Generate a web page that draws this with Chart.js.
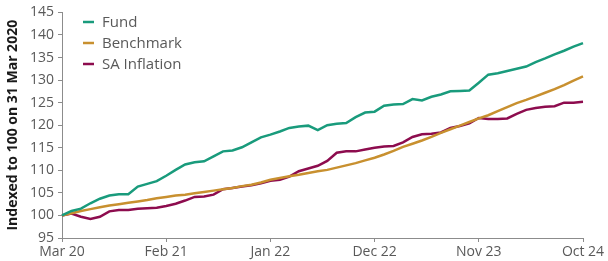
<!DOCTYPE html>
<html>
<head>
<meta charset="utf-8">
<script src="https://cdn.jsdelivr.net/npm/chart.js@4.4.1/dist/chart.umd.min.js"></script>
<style>
  html, body { margin: 0; padding: 0; background: #fff; }
  #wrap { position: relative; width: 608px; height: 261px; }
</style>
</head>
<body>
<div id="wrap"><canvas id="chart"></canvas></div>
<script>
const months = [
  'Mar 20', 'Apr 20', 'May 20', 'Jun 20', 'Jul 20', 'Aug 20', 'Sep 20', 'Oct 20', 'Nov 20', 'Dec 20',
  'Jan 21', 'Feb 21', 'Mar 21', 'Apr 21', 'May 21', 'Jun 21', 'Jul 21', 'Aug 21', 'Sep 21', 'Oct 21', 'Nov 21', 'Dec 21',
  'Jan 22', 'Feb 22', 'Mar 22', 'Apr 22', 'May 22', 'Jun 22', 'Jul 22', 'Aug 22', 'Sep 22', 'Oct 22', 'Nov 22', 'Dec 22',
  'Jan 23', 'Feb 23', 'Mar 23', 'Apr 23', 'May 23', 'Jun 23', 'Jul 23', 'Aug 23', 'Sep 23', 'Oct 23', 'Nov 23', 'Dec 23',
  'Jan 24', 'Feb 24', 'Mar 24', 'Apr 24', 'May 24', 'Jun 24', 'Jul 24', 'Aug 24', 'Sep 24', 'Oct 24'
]

const fund = [
  100.0, 101.0, 101.5, 102.7, 103.7, 104.4, 104.7, 104.7, 106.4, 107.0,
  107.6, 108.8, 110.1, 111.3, 111.8, 112.0, 113.1, 114.2, 114.4, 115.1, 116.2, 117.3,
  117.9, 118.6, 119.4, 119.7, 119.9, 118.9, 120.0, 120.3, 120.5, 121.8, 122.8, 123.0,
  124.3, 124.6, 124.7, 125.8, 125.5, 126.3, 126.8, 127.5, 127.6, 127.7, 129.4, 131.2,
  131.5, 132.0, 132.5, 133.0, 134.0, 134.8, 135.7, 136.5, 137.4, 138.2
]

const benchmark = [
  100.0, 100.5, 101.0, 101.4, 101.8, 102.2, 102.5, 102.8, 103.1, 103.4,
  103.8, 104.1, 104.4, 104.6, 104.9, 105.2, 105.5, 105.8, 106.1, 106.5, 106.8, 107.3,
  107.9, 108.3, 108.7, 109.0, 109.4, 109.8, 110.1, 110.6, 111.1, 111.6, 112.2, 112.8,
  113.5, 114.3, 115.2, 115.9, 116.6, 117.4, 118.3, 119.1, 119.9, 120.7, 121.5, 122.2,
  123.1, 124.0, 124.9, 125.6, 126.4, 127.2, 128.0, 128.9, 129.9, 130.8
]

const inflation = [
  100.0, 100.4, 99.7, 99.2, 99.7, 100.9, 101.2, 101.2, 101.5, 101.6,
  101.7, 102.1, 102.6, 103.3, 104.1, 104.2, 104.6, 105.8, 106.1, 106.4, 106.7, 107.1,
  107.7, 107.9, 108.6, 109.8, 110.4, 111.0, 112.1, 113.9, 114.2, 114.2, 114.6, 115.0,
  115.3, 115.4, 116.2, 117.4, 118.0, 118.1, 118.4, 119.4, 119.8, 120.4, 121.6, 121.4,
  121.4, 121.5, 122.5, 123.4, 123.8, 124.1, 124.2, 125.0, 125.0, 125.2
]

const seriesNames = ['Fund', 'Benchmark', 'SA Inflation']
const seriesColors = ['#199b7c', '#c8902f', '#8d0c4e']
const labelEvery = 11

const FONT = "'Open Sans', sans-serif"

// legend drawn inside the plot, top left
const insideLegend = {
  id: 'insideLegend',
  afterDraw(chart) {
    const ctx = chart.ctx
    const left = chart.chartArea.left
    ctx.save()
    ctx.font = '15px ' + FONT
    ctx.textBaseline = 'middle'
    chart.data.datasets.forEach((ds, i) => {
      const y = 22 + i * 21
      ctx.strokeStyle = ds.borderColor
      ctx.lineWidth = 2.5
      ctx.beginPath()
      ctx.moveTo(left + 21, y)
      ctx.lineTo(left + 32, y)
      ctx.stroke()
      ctx.fillStyle = '#595959'
      ctx.fillText(ds.label, left + 40, y + 1)
    })
    ctx.restore()
  }
}

const datasets = [fund, benchmark, inflation].map((values, i) => ({
  label: seriesNames[i],
  data: values,
  borderColor: seriesColors[i],
  backgroundColor: seriesColors[i],
  borderWidth: 2.5,
  pointRadius: 0,
  tension: 0
}))

new Chart(document.getElementById('chart'), {
  type: 'line',
  data: { labels: months, datasets },
  options: {
    animation: false,
    responsive: true,
    maintainAspectRatio: false,
    layout: { padding: { top: 11, right: 25, bottom: 0, left: 0 } },
    plugins: {
      legend: { display: false },
      tooltip: { enabled: false }
    },
    scales: {
      x: {
        afterFit: (s) => { s.height = 23 },
        afterBuildTicks: (s) => {
          s.ticks = s.ticks.filter((t) => t.value % labelEvery === 0)
        },
        grid: { drawOnChartArea: false, drawTicks: true, tickLength: 4, color: '#8c8c8c' },
        border: { color: '#8c8c8c', width: 1 },
        ticks: {
          autoSkip: false,
          maxRotation: 0,
          padding: 2,
          color: '#595959',
          font: { family: FONT, size: 14 }
        }
      },
      y: {
        min: 95,
        max: 145,
        afterFit: (s) => { s.width = 62 },
        grid: { drawOnChartArea: false, drawTicks: true, tickLength: 4, color: '#8c8c8c' },
        border: { color: '#8c8c8c', width: 1 },
        ticks: {
          stepSize: 5,
          padding: 4,
          color: '#595959',
          font: { family: FONT, size: 14 }
        },
        title: {
          display: true,
          text: 'Indexed to 100 on 31 Mar 2020',
          color: '#1a1a1a',
          padding: { top: 5, bottom: 0 },
          font: { family: FONT, size: 14, weight: 'bold' }
        }
      }
    }
  },
  plugins: [insideLegend]
})
</script>
</body>
</html>
